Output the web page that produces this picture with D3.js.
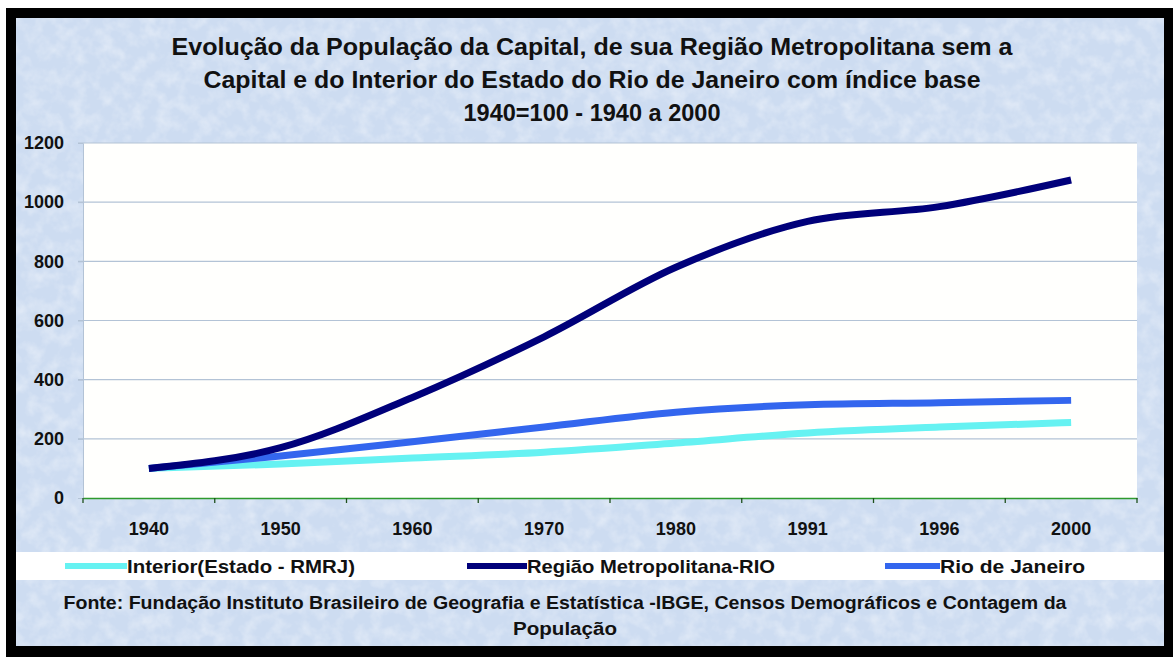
<!DOCTYPE html>
<html>
<head>
<meta charset="utf-8">
<script src="https://cdn.jsdelivr.net/npm/d3@7"></script>
<style>
  body { margin: 0; background: #ffffff; }
  text { font-family: "Liberation Sans", Arial, sans-serif; }
</style>
</head>
<body>
<div id="chart"></div>
<script>
// Data (index 1940 = 100)
const years = ["1940", "1950", "1960", "1970", "1980", "1991", "1996", "2000"];
const interior = [100, 115, 135, 155, 186, 220, 240, 255];
const metropolitana = [100, 170, 340, 545, 780, 935, 985, 1075];
const rioDeJaneiro = [100, 142, 190, 240, 290, 315, 322, 330];
const yTicks = [0, 200, 400, 600, 800, 1000, 1200];

const seriesNames = ["Interior(Estado - RMRJ)", "Região Metropolitana-RIO", "Rio de Janeiro"];
const seriesColors = ["#66f2f2", "#00007a", "#3366ee"];

const titleLines = [
  "Evolução da População da Capital, de sua Região Metropolitana sem a",
  "Capital e do Interior do Estado do Rio de Janeiro com índice base",
  "1940=100 - 1940 a 2000"
];
const sourceLines = [
  "Fonte: Fundação Instituto Brasileiro de Geografia e Estatística -IBGE, Censos Demográficos e Contagem da",
  "População"
];

const width = 1173, height = 657;
const plot = { left: 83, right: 1137, top: 143, bottom: 498 };
// widths of the condensed text lines in the picture
const titleWidths = [841, 777, 257];
const sourceWidths = [1003, 104];

const svg = d3.select("#chart")
  .append("svg")
  .attr("width", width)
  .attr("height", height);

// Texture for the light blue background
const defs = svg.append("defs");
const tex = defs.append("filter")
  .attr("id", "paper")
  .attr("filterUnits", "userSpaceOnUse")
  .attr("x", 16).attr("y", 18).attr("width", 1148).attr("height", 628);
tex.append("feTurbulence")
  .attr("type", "fractalNoise")
  .attr("baseFrequency", 0.07)
  .attr("numOctaves", 3)
  .attr("seed", 7);
tex.append("feColorMatrix")
  .attr("type", "matrix")
  .attr("values", "0 0 0 0 1  0 0 0 0 1  0 0 0 0 1  1.4 0 0 0 -0.55");

// Black frame and background
svg.append("rect")
  .attr("x", 6).attr("y", 8)
  .attr("width", width - 6).attr("height", height - 8)
  .attr("fill", "#000000");
svg.append("rect")
  .attr("x", 16).attr("y", 18)
  .attr("width", 1148).attr("height", 628)
  .attr("fill", "#cddcf1");
svg.append("rect")
  .attr("x", 16).attr("y", 18)
  .attr("width", 1148).attr("height", 628)
  .attr("fill", "#ffffff")
  .attr("filter", "url(#paper)")
  .attr("opacity", 0.55);

// Title
svg.append("g")
  .selectAll("text")
  .data(titleLines)
  .join("text")
  .attr("x", 592)
  .attr("y", (d, i) => 55 + i * 33)
  .attr("text-anchor", "middle")
  .attr("textLength", (d, i) => titleWidths[i])
  .attr("lengthAdjust", "spacingAndGlyphs")
  .style("font-size", "23px")
  .style("font-weight", "bold")
  .attr("fill", "#111111")
  .text(d => d);

// Scales
const x = d3.scaleBand().domain(years).range([plot.left, plot.right]);
const y = d3.scaleLinear().domain([0, 1200]).range([plot.bottom, plot.top]);
const cx = d => x(d) + x.bandwidth() / 2;

// Plot area
svg.append("rect")
  .attr("x", plot.left).attr("y", plot.top)
  .attr("width", plot.right - plot.left).attr("height", plot.bottom - plot.top)
  .attr("fill", "#fffffd");

// Gridlines
svg.append("g")
  .selectAll("line")
  .data(yTicks.filter(d => d > 0))
  .join("line")
  .attr("x1", plot.left - 5).attr("x2", plot.right)
  .attr("y1", d => y(d)).attr("y2", d => y(d))
  .attr("stroke", "#b3c3d6")
  .attr("stroke-width", 1.2);

// Y axis
const yAxis = svg.append("g")
  .attr("transform", `translate(${plot.left},0)`)
  .call(d3.axisLeft(y).tickValues(yTicks).tickFormat(d3.format("d")).tickSize(5).tickPadding(14));
yAxis.select(".domain").attr("stroke", "#b3c3d6");
yAxis.selectAll(".tick line").attr("stroke", "#b3c3d6");
yAxis.selectAll("text")
  .attr("fill", "#111111")
  .style("font-size", "18px")
  .style("font-weight", "bold");

// X axis
const xAxis = svg.append("g")
  .attr("transform", `translate(0,${plot.bottom})`)
  .call(d3.axisBottom(x).tickSize(0).tickPadding(24));
xAxis.select(".domain").attr("stroke", "#2e9a2e").attr("stroke-width", 1.5);
xAxis.selectAll("text")
  .attr("fill", "#111111")
  .style("font-size", "18px")
  .style("font-weight", "bold");
xAxis.selectAll(".boundary")
  .data(years.concat(["end"]))
  .join("line")
  .attr("x1", (d, i) => i < years.length ? x(d) : plot.right)
  .attr("x2", (d, i) => i < years.length ? x(d) : plot.right)
  .attr("y1", 0).attr("y2", 5)
  .attr("stroke", "#1d4f1d")
  .attr("stroke-width", 1.3);

// Lines
const seriesValues = [interior, metropolitana, rioDeJaneiro];
const drawOrder = [0, 2, 1];
const line = d3.line()
  .x((d, i) => cx(years[i]))
  .y(d => y(d))
  .curve(d3.curveMonotoneX);

svg.append("g")
  .selectAll("path")
  .data(drawOrder)
  .join("path")
  .attr("fill", "none")
  .attr("stroke", k => seriesColors[k])
  .attr("stroke-width", 7)
  .attr("d", k => line(seriesValues[k]));

// Legend band
svg.append("rect")
  .attr("x", 16).attr("y", 552)
  .attr("width", 1148).attr("height", 28)
  .attr("fill", "#ffffff");

const legendX = [65, 467, 885];
const legendSwatch = [62, 60, 55];
const legendTextWidths = [228, 248, 145];
const legend = svg.append("g")
  .selectAll("g")
  .data(seriesNames)
  .join("g")
  .attr("transform", (d, i) => `translate(${legendX[i]},566)`);
legend.append("line")
  .attr("x1", 0).attr("x2", (d, i) => legendSwatch[i])
  .attr("stroke", (d, i) => seriesColors[i])
  .attr("stroke-width", 6);
legend.append("text")
  .attr("x", (d, i) => legendSwatch[i])
  .attr("y", 7)
  .attr("textLength", (d, i) => legendTextWidths[i])
  .attr("lengthAdjust", "spacingAndGlyphs")
  .style("font-size", "19px")
  .style("font-weight", "bold")
  .attr("fill", "#111111")
  .text(d => d);

// Source note
svg.append("g")
  .selectAll("text")
  .data(sourceLines)
  .join("text")
  .attr("x", 565)
  .attr("y", (d, i) => 609 + i * 26)
  .attr("text-anchor", "middle")
  .attr("textLength", (d, i) => sourceWidths[i])
  .attr("lengthAdjust", "spacingAndGlyphs")
  .style("font-size", "18px")
  .style("font-weight", "bold")
  .attr("fill", "#111111")
  .text(d => d);
</script>
</body>
</html>
